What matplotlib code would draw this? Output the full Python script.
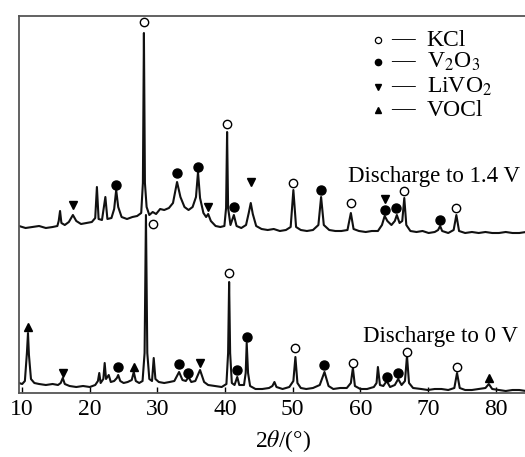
import numpy as np
import matplotlib.pyplot as plt

plt.rcParams['font.family'] = 'Liberation Serif'
plt.rcParams['mathtext.fontset'] = 'stix'

# XRD pattern after discharge to 1.4 V (2theta in deg, offset intensity)
pattern_14v = np.array([
    [9.53, 167], [10.5, 165], [11.5, 166], [12.5, 167], [13.5, 165], [14.5, 166],
    [15.2, 167], [15.4, 172], [15.6, 182], [15.8, 170], [16.3, 168], [16.9, 171],
    [17.5, 178], [18.0, 172], [18.7, 169], [19.5, 170], [20.3, 171], [20.8, 175],
    [21.05, 206], [21.3, 174], [21.8, 173], [22.3, 196], [22.6, 174], [23.2, 175],
    [23.6, 184], [23.9, 203], [24.2, 186], [24.7, 176], [25.5, 174], [26.3, 176],
    [27.0, 177], [27.6, 180], [27.85, 210], [28.0, 360], [28.15, 210], [28.4, 186],
    [28.8, 178], [29.3, 181], [29.8, 179], [30.4, 184], [31.0, 183], [31.7, 185],
    [32.3, 190], [32.9, 211], [33.4, 196], [34.0, 186], [34.6, 183], [35.2, 186],
    [35.7, 196], [36.0, 221], [36.3, 195], [36.8, 180], [37.2, 176], [37.5, 179],
    [37.9, 172], [38.6, 167], [39.3, 166], [39.9, 167], [40.15, 185], [40.3, 261],
    [40.45, 185], [40.8, 168], [41.3, 178], [41.7, 167], [42.4, 165], [43.1, 168],
    [43.5, 180], [43.8, 190], [44.1, 179], [44.6, 167], [45.4, 164], [46.3, 163],
    [47.2, 164], [48.1, 162], [49.0, 163], [49.7, 166], [50.1, 203], [50.5, 166],
    [51.2, 163], [52.1, 162], [53.0, 163], [53.8, 168], [54.2, 196], [54.6, 168],
    [55.4, 163], [56.3, 162], [57.2, 162], [58.1, 163], [58.6, 180], [59.0, 164],
    [59.8, 162], [60.8, 161], [61.7, 162], [62.6, 162], [63.2, 168], [63.6, 177],
    [64.0, 172], [64.6, 168], [65.1, 172], [65.4, 178], [65.8, 170], [66.2, 172],
    [66.5, 195], [66.8, 168], [67.4, 162], [68.3, 161], [69.2, 162], [70.1, 160],
    [71.0, 161], [71.5, 163], [71.8, 167], [72.1, 162], [73.0, 160], [73.8, 163],
    [74.2, 178], [74.6, 162], [75.5, 160], [76.5, 161], [77.5, 160], [78.5, 161],
    [79.5, 160], [80.5, 160], [81.5, 161], [82.5, 160], [83.5, 160], [84.5, 161],
])

# XRD pattern after discharge to 0 V
pattern_0v = np.array([
    [9.53, 10], [10.0, 9], [10.4, 12], [10.7, 40], [10.86, 60], [11.0, 38],
    [11.3, 14], [11.8, 10], [12.5, 9], [13.5, 8], [14.5, 9], [15.3, 8],
    [15.7, 10], [16.0, 15], [16.3, 9], [17.0, 7], [18.0, 6], [19.0, 7],
    [20.0, 6], [20.8, 8], [21.2, 12], [21.4, 20], [21.6, 10], [22.0, 14],
    [22.2, 30], [22.4, 14], [22.8, 18], [23.1, 11], [23.6, 12], [24.0, 15],
    [24.2, 18], [24.5, 12], [25.0, 10], [25.6, 11], [26.2, 13], [26.5, 21],
    [26.8, 12], [27.3, 10], [27.8, 12], [28.1, 40], [28.3, 178], [28.5, 40],
    [28.8, 14], [29.2, 12], [29.45, 35], [29.7, 14], [30.2, 11], [31.0, 10],
    [31.8, 11], [32.5, 12], [33.2, 21], [33.7, 13], [34.2, 12], [34.6, 16],
    [35.0, 11], [35.6, 12], [36.3, 23], [36.9, 11], [37.5, 8], [38.5, 7],
    [39.5, 6], [40.2, 9], [40.45, 40], [40.6, 111], [40.75, 40], [41.0, 10],
    [41.4, 8], [41.8, 16], [42.1, 8], [42.8, 8], [43.05, 20], [43.2, 50],
    [43.4, 20], [43.7, 7], [44.5, 4], [45.5, 4], [46.5, 5], [47.0, 7],
    [47.3, 11], [47.6, 6], [48.5, 4], [49.5, 6], [50.1, 12], [50.4, 36],
    [50.7, 10], [51.2, 5], [52.0, 4], [53.0, 5], [54.0, 8], [54.7, 21],
    [55.3, 7], [56.0, 4], [57.0, 5], [58.0, 5], [58.6, 10], [58.9, 25],
    [59.2, 7], [60.0, 4], [61.0, 4], [62.0, 6], [62.4, 10], [62.6, 26],
    [62.9, 8], [63.4, 7], [63.9, 12], [64.4, 6], [65.1, 8], [65.6, 14],
    [66.1, 8], [66.6, 12], [66.9, 37], [67.2, 10], [67.8, 5], [69.0, 4],
    [70.0, 3], [71.0, 4], [72.0, 4], [73.0, 3], [73.9, 5], [74.3, 20],
    [74.7, 5], [75.5, 3], [76.5, 3], [77.5, 4], [78.5, 5], [79.0, 9],
    [79.5, 4], [80.5, 3], [81.5, 2], [82.5, 3], [83.5, 3], [84.5, 2],
])

# phase markers (2theta, height) for both patterns
kcl_tt = [28.0, 40.3, 50.1, 58.6, 66.5, 74.2, 29.4, 40.6, 50.4, 58.9, 66.9, 74.3]
kcl_y = [371, 269, 210, 190, 202, 185, 169, 120, 45, 30, 41, 26]
v2o3_tt = [23.9, 32.9, 36.0, 41.3, 54.2, 63.6, 65.3, 71.8,
           24.2, 33.2, 34.5, 41.8, 43.2, 54.7, 63.9, 65.6]
v2o3_y = [208, 220, 226, 186, 203, 183, 185, 173,
          26, 29, 20, 23, 56, 28, 16, 20]
livo2_tt = [17.5, 37.5, 43.8, 63.6, 16.0, 36.3]
livo2_y = [188, 186, 211, 194, 20, 30]
vocl_tt = [10.86, 26.5, 79.0]
vocl_y = [66, 26, 15]

fig = plt.figure(figsize=(5.25, 4.57), dpi=100)
ax = fig.add_axes([19 / 525, 64 / 457, 506 / 525, 377 / 457])

for pat in (pattern_14v, pattern_0v):
    ax.plot(pat[:, 0], pat[:, 1], color='#111111', lw=1.5)

ax.plot(kcl_tt, kcl_y, 'o', ms=6, mfc='white', mec='black', mew=1.0)
ax.plot(v2o3_tt, v2o3_y, 'o', ms=6.5, color='black')
ax.plot(livo2_tt, livo2_y, 'v', ms=6, color='black')
ax.plot(vocl_tt, vocl_y, '^', ms=6, color='black')

# phase key
key_y = [353, 331, 306, 283]
key_labels = ['KCl', 'V$_2$O$_3$', 'LiVO$_2$', 'VOCl']
key_styles = [dict(marker='o', mfc='white', mec='black', mew=0.9, ms=4.5),
              dict(marker='o', color='black', ms=4.5),
              dict(marker='v', color='black', ms=4.5),
              dict(marker='^', color='black', ms=4.5)]
for yy, lab, st in zip(key_y, key_labels, key_styles):
    ax.plot([62.6], [yy], linestyle='none', **st)
    ax.text(64.6, yy, '—', fontsize=17, va='center', ha='left')
    ax.text(69.8, yy, lab, fontsize=17, va='center', ha='left')

ax.text(58.2, 211, 'Discharge to 1.4 V', fontsize=16.5, ha='left', va='baseline')
ax.text(60.4, 51, 'Discharge to 0 V', fontsize=16.5, ha='left', va='baseline')

ax.set_xlim(9.53, 84.35)
ax.set_ylim(0, 377)
ax.set_xticks([10, 20, 30, 40, 50, 60, 70, 80])
ax.set_yticks([])
ax.tick_params(axis='x', direction='in', length=4, width=1, labelsize=17, pad=4)
for s in ax.spines.values():
    s.set_color('#555555')
    s.set_linewidth(1.3)
ax.spines['right'].set_visible(False)

ax.set_xlabel(r'2$\theta$/(°)', fontsize=17)
ax.xaxis.set_label_coords((283 - 19) / 506, -0.128)
ax.xaxis.label.set_va('center')

fig.savefig('out.png', dpi=100)
